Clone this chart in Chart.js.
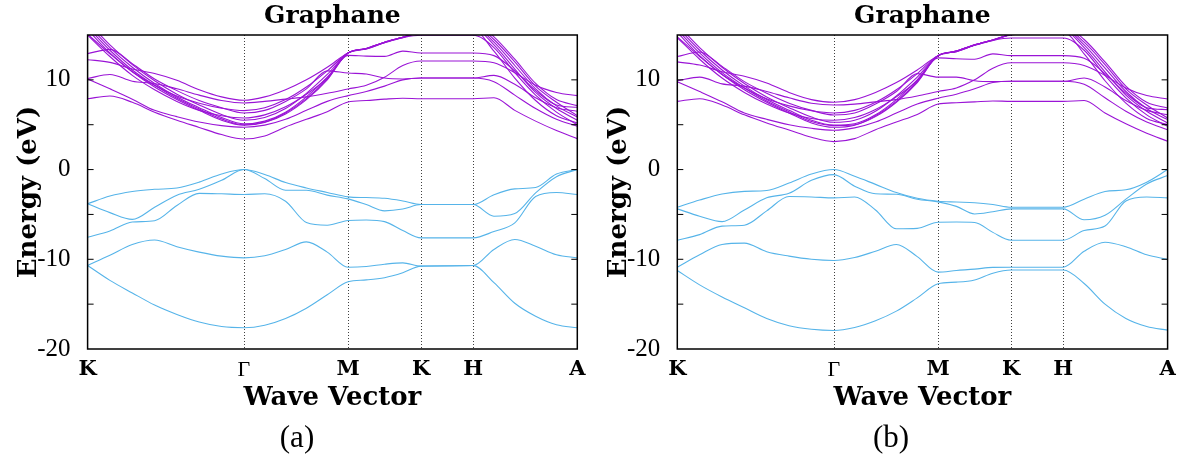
<!DOCTYPE html>
<html>
<head>
<meta charset="utf-8">
<script src="https://cdn.jsdelivr.net/npm/chart.js@4.4.1/dist/chart.umd.min.js"></script>
<style>
  html, body { margin: 0; padding: 0; background: #fff; }
  #wrap { position: relative; width: 1188px; height: 458px; }
  .panel { position: absolute; top: 0; width: 594px; height: 458px; }
</style>
</head>
<body>
<div id="wrap">
  <div class="panel" style="left:0"><canvas id="chart-a" width="594" height="458"></canvas></div>
  <div class="panel" style="left:594px"><canvas id="chart-b" width="594" height="458"></canvas></div>
</div>
<script>
// k-path sample positions (K -> Gamma -> M -> K -> H -> A)
const kPath = [0, 0.214, 0.429, 0.643, 0.857, 1.071, 1.286, 1.5, 1.7, 1.9, 2.1, 2.3, 2.5,
               2.675, 2.85, 3.025, 3.2, 3.7, 3.9, 4.1, 4.3, 4.5, 4.7];
const kTicks = [0, 1.5, 2.5, 3.2, 3.7, 4.7];
const kLabels = ['K', 'Γ', 'M', 'K', 'H', 'A'];
const energyTicks = [-20, -15, -10, -5, 0, 5, 10, 15];

// panel (a): valence bands (eV)
const valenceA = [
  [-3.82, -2.95, -2.45, -2.2, -2.05, -1.4, -0.5, 0, -0.55, -1.45, -2.05, -2.55, -3.04, -3.12, -3.2, -3.5, -3.9, -3.9, -2.8, -2.15, -2.0, -0.5, 0],
  [-3.82, -4.8, -5.55, -4.2, -2.85, -2.2, -1.2, 0, -1.0, -2.3, -2.3, -2.85, -3.27, -3.9, -4.6, -4.4, -3.9, -3.9, -5.2, -4.9, -2.6, -0.8, 0],
  [-7.54, -6.85, -5.85, -5.7, -4.0, -2.65, -2.7, -2.78, -2.7, -3.53, -5.9, -6.2, -5.68, -5.62, -5.8, -6.8, -7.61, -7.61, -6.9, -5.94, -3.0, -2.55, -2.78],
  [-10.69, -9.55, -8.35, -7.85, -8.6, -9.2, -9.65, -9.84, -9.6, -8.9, -8.06, -9.2, -10.88, -10.8, -10.55, -10.4, -10.76, -10.7, -8.9, -7.8, -8.55, -9.5, -9.84],
  [-10.69, -12.35, -13.75, -15.1, -16.15, -17.0, -17.5, -17.63, -17.35, -16.6, -15.45, -13.95, -12.51, -12.3, -12.05, -11.5, -10.76, -10.7, -12.6, -14.9, -16.35, -17.3, -17.63]
];

// panel (a): conduction bands (eV)
const conductionA = [
  [7.9, 8.2, 7.5, 6.4, 5.5, 4.7, 3.9, 3.41, 3.75, 4.75, 5.6, 6.45, 7.54, 7.7, 7.85, 7.95, 7.9, 7.9, 8.0, 6.6, 5.4, 4.35, 3.45],
  [10.1, 9.0, 7.85, 6.6, 5.9, 5.3, 4.9, 4.71, 4.95, 5.6, 6.6, 7.6, 8.24, 8.7, 9.3, 10.0, 10.2, 10.2, 9.8, 8.3, 6.8, 5.6, 4.83],
  [15.6, 13.0, 10.9, 9.2, 7.8, 6.6, 5.5, 4.94, 5.25, 6.2, 7.8, 10.0, 13.0, 13.45, 14.15, 14.7, 14.97, 14.97, 13.6, 10.8, 8.3, 6.4, 5.0],
  [15.9, 13.3, 11.1, 9.4, 7.95, 6.75, 5.65, 5.0, 5.3, 6.3, 7.9, 10.1, 13.0, 13.45, 14.15, 14.7, 15.3, 15.6, 13.2, 10.2, 7.7, 6.0, 5.2],
  [16.2, 13.6, 11.4, 9.6, 8.1, 6.9, 5.8, 5.09, 5.4, 6.4, 8.1, 10.3, 13.0, 13.5, 14.2, 14.75, 15.35, 15.8, 13.9, 11.2, 8.6, 6.8, 5.5],
  [16.5, 13.9, 11.7, 9.9, 8.4, 7.2, 6.15, 5.49, 5.8, 6.8, 8.5, 10.6, 13.0, 13.5, 14.2, 14.75, 15.35, 16.0, 14.2, 11.6, 9.0, 7.1, 5.87],
  [15.0, 12.6, 10.5, 8.9, 7.6, 6.6, 6.0, 5.75, 6.1, 7.0, 8.4, 10.2, 12.73, 12.65, 12.62, 13.2, 13.0, 13.0, 12.7, 11.0, 8.8, 7.2, 6.94],
  [12.92, 13.4, 11.8, 10.1, 8.8, 7.7, 6.9, 6.31, 6.6, 7.6, 9.0, 11.0, 10.76, 10.65, 10.2, 10.1, 10.2, 10.2, 10.5, 9.5, 8.0, 6.9, 6.5],
  [15.1, 12.9, 10.9, 9.4, 8.2, 7.4, 6.85, 6.57, 6.9, 7.8, 9.2, 11.0, 13.0, 13.5, 14.2, 14.75, 15.35, 16.2, 14.5, 12.0, 9.3, 7.5, 6.01],
  [10.15, 10.6, 9.85, 9.6, 9.0, 8.3, 7.7, 7.42, 7.6, 7.85, 8.1, 8.5, 8.98, 9.4, 10.3, 11.6, 12.1, 12.1, 11.9, 10.8, 9.4, 8.6, 8.24],
  [12.25, 11.95, 11.2, 10.7, 9.95, 8.9, 8.1, 7.72, 8.1, 8.9, 10.0, 11.4, 13.0, 13.5, 14.2, 14.75, 15.35, 16.4, 14.8, 12.3, 9.6, 7.8, 7.13]
];

// panel (b): valence bands (eV)
const valenceB = [
  [-4.2, -3.4, -2.72, -2.43, -2.33, -1.5, -0.5, 0, -0.75, -1.65, -2.55, -3.2, -3.53, -3.62, -3.7, -3.9, -4.2, -4.2, -3.3, -2.45, -2.25, -1.4, 0],
  [-4.38, -5.2, -5.8, -4.5, -3.15, -2.65, -1.2, -0.56, -1.85, -2.7, -2.75, -3.3, -3.6, -4.1, -4.95, -4.7, -4.38, -4.38, -5.6, -5.1, -3.3, -1.6, -0.67],
  [-7.87, -7.25, -6.3, -6.2, -4.6, -3.0, -3.05, -3.16, -3.05, -4.5, -6.6, -6.55, -5.87, -5.85, -5.9, -7.0, -7.87, -7.87, -6.8, -6.3, -3.5, -3.05, -3.16],
  [-10.88, -9.5, -8.35, -8.2, -9.15, -9.65, -10.0, -10.13, -9.8, -9.1, -8.35, -9.7, -11.43, -11.25, -11.1, -10.9, -10.88, -10.88, -9.1, -8.1, -8.6, -9.5, -10.0],
  [-11.25, -12.85, -14.2, -15.4, -16.6, -17.4, -17.8, -17.93, -17.6, -16.85, -15.78, -14.3, -12.73, -12.55, -12.3, -11.55, -11.2, -11.2, -12.7, -15.0, -16.6, -17.5, -17.9]
];

// panel (b): conduction bands (eV)
const conductionB = [
  [7.6, 7.9, 7.2, 6.1, 5.2, 4.4, 3.6, 3.12, 3.45, 4.45, 5.3, 6.15, 7.3, 7.45, 7.55, 7.65, 7.6, 7.6, 7.7, 6.3, 5.1, 4.05, 3.16],
  [9.8, 8.7, 7.55, 6.3, 5.6, 5.0, 4.6, 4.38, 4.65, 5.3, 6.3, 7.3, 7.95, 8.4, 9.0, 9.7, 9.84, 9.84, 9.5, 8.0, 6.5, 5.3, 4.45],
  [15.3, 12.7, 10.6, 8.9, 7.5, 6.3, 5.2, 4.71, 4.95, 5.9, 7.5, 9.7, 12.7, 13.15, 13.85, 14.4, 14.66, 14.66, 13.3, 10.5, 8.0, 6.1, 4.83],
  [15.6, 13.0, 10.8, 9.1, 7.65, 6.45, 5.35, 4.9, 5.0, 6.0, 7.6, 9.8, 12.7, 13.15, 13.85, 14.4, 15.0, 15.3, 12.9, 9.9, 7.4, 5.7, 5.01],
  [15.9, 13.3, 11.1, 9.3, 7.8, 6.6, 5.5, 4.95, 5.1, 6.1, 7.8, 10.0, 12.7, 13.2, 13.9, 14.45, 15.05, 15.5, 13.6, 10.9, 8.3, 6.5, 5.2],
  [16.2, 13.6, 11.4, 9.6, 8.1, 6.9, 5.85, 5.27, 5.5, 6.5, 8.2, 10.3, 12.7, 13.2, 13.9, 14.45, 15.05, 15.7, 13.9, 11.3, 8.7, 6.8, 5.57],
  [14.7, 12.3, 10.2, 8.6, 7.3, 6.3, 5.7, 5.49, 5.8, 6.7, 8.1, 9.9, 12.45, 12.35, 12.3, 12.9, 12.7, 12.7, 12.4, 10.7, 8.5, 6.9, 6.68],
  [12.6, 13.1, 11.5, 9.8, 8.5, 7.4, 6.6, 6.09, 6.3, 7.3, 8.7, 10.7, 10.3, 10.3, 9.9, 9.8, 9.84, 9.84, 10.2, 9.2, 7.7, 6.6, 6.12],
  [14.8, 12.6, 10.6, 9.1, 7.9, 7.1, 6.55, 6.31, 6.6, 7.5, 8.9, 10.7, 12.7, 13.2, 13.9, 14.45, 15.05, 15.9, 14.2, 11.7, 9.0, 7.2, 5.75],
  [9.9, 10.3, 9.55, 9.3, 8.7, 8.0, 7.4, 7.2, 7.3, 7.55, 7.8, 8.2, 8.7, 9.1, 10.0, 11.3, 11.9, 11.9, 11.6, 10.5, 9.1, 8.25, 7.87],
  [12.0, 11.65, 10.9, 10.4, 9.65, 8.6, 7.8, 7.5, 7.8, 8.6, 9.7, 11.1, 12.7, 13.2, 13.9, 14.45, 15.05, 16.1, 14.5, 12.0, 9.3, 7.5, 6.87]
];

const VALENCE_COLOR = '#56B4E9';
const CONDUCTION_COLOR = '#9A14D6';
const SERIF = '"Liberation Serif", serif';
const SERIF_BOLD = '"DejaVu Serif", serif';

function bandDataset(row, color) {
    return {
        data: kPath.map((k, i) => ({ x: k, y: row[i] })),
        borderColor: color,
        borderWidth: 1.1,
        pointRadius: 0,
        cubicInterpolationMode: 'monotone',
        fill: false,
        clip: 0
    };
}

// frame, inward ticks, dotted k-lines and the text labels
const decorPlugin = {
    id: 'bandDecor',
    beforeDatasetsDraw(chart) {
        const { ctx, chartArea: a, scales } = chart;
        ctx.save();
        ctx.strokeStyle = 'rgba(0,0,0,0.75)';
        ctx.lineWidth = 1;
        ctx.setLineDash([1, 2]);
        kTicks.slice(1, -1).forEach(k => {
            const x = Math.round(scales.x.getPixelForValue(k)) + 0.5;
            ctx.beginPath();
            ctx.moveTo(x, a.top);
            ctx.lineTo(x, a.bottom);
            ctx.stroke();
        });
        ctx.restore();
    },
    afterDatasetsDraw(chart) {
        const { ctx, chartArea: a, scales } = chart;
        ctx.save();
        ctx.strokeStyle = '#000';
        ctx.lineWidth = 1.5;
        ctx.strokeRect(a.left, a.top, a.right - a.left, a.bottom - a.top);
        ctx.lineWidth = 1;
        energyTicks.slice(1, -1).forEach(v => {
            const y = scales.y.getPixelForValue(v);
            ctx.beginPath();
            ctx.moveTo(a.left, y);
            ctx.lineTo(a.left + 6, y);
            ctx.moveTo(a.right, y);
            ctx.lineTo(a.right - 6, y);
            ctx.stroke();
        });
        ctx.restore();
    },
    afterDraw(chart, args, opts) {
        const { ctx, chartArea: a } = chart;
        const cx = (a.left + a.right) / 2;
        ctx.save();
        ctx.fillStyle = '#000';
        ctx.textAlign = 'center';
        ctx.textBaseline = 'alphabetic';
        ctx.font = 'bold 25px ' + SERIF_BOLD;
        ctx.fillText('Graphane', cx, 23);
        ctx.font = 'bold 26px ' + SERIF_BOLD;
        ctx.fillText('Wave Vector', cx, 405);
        ctx.font = '31px ' + SERIF;
        ctx.fillText(opts.caption, chart.width / 2, 447);
        ctx.translate(opts.yTitleX, (a.top + a.bottom) / 2);
        ctx.rotate(-Math.PI / 2);
        ctx.font = 'bold 26px ' + SERIF_BOLD;
        ctx.fillText('Energy (eV)', 0, 0);
        ctx.restore();
    }
};

function makeChart(canvasId, valence, conduction, layout) {
    const datasets = [
        ...valence.map(row => bandDataset(row, VALENCE_COLOR)),
        ...conduction.map(row => bandDataset(row, CONDUCTION_COLOR))
    ];
    return new Chart(document.getElementById(canvasId), {
        type: 'line',
        data: { datasets },
        plugins: [decorPlugin],
        options: {
            responsive: false,
            animation: false,
            layout: { padding: { top: 35, right: layout.padRight, left: 0, bottom: 0 } },
            plugins: {
                legend: { display: false },
                tooltip: { enabled: false },
                bandDecor: { caption: layout.caption, yTitleX: layout.yTitleX }
            },
            scales: {
                x: {
                    type: 'linear',
                    min: kTicks[0],
                    max: kTicks[kTicks.length - 1],
                    grid: { display: false },
                    border: { display: false },
                    afterBuildTicks: scale => { scale.ticks = kTicks.map(v => ({ value: v })); },
                    afterFit: scale => {
                        scale.height = 109;
                        scale.paddingLeft = 0;
                        scale.paddingRight = 0;
                    },
                    ticks: {
                        autoSkip: false,
                        maxRotation: 0,
                        padding: 0,
                        color: '#000',
                        callback: (v, i) => kLabels[i],
                        font: ctx => ({
                            family: ctx.index === 1 ? SERIF : SERIF_BOLD,
                            size: ctx.index === 1 ? 22 : 21,
                            weight: ctx.index === 1 ? 'normal' : 'bold'
                        })
                    }
                },
                y: {
                    min: -20,
                    max: 15,
                    grid: { display: false },
                    border: { display: false },
                    afterFit: scale => {
                        scale.width = layout.yAxisWidth;
                        scale.paddingTop = 0;
                        scale.paddingBottom = 0;
                    },
                    ticks: {
                        stepSize: 5,
                        padding: 9,
                        color: '#000',
                        font: { family: SERIF, size: 25 },
                        callback: v => (v % 10 === 0 ? String(v) : '')
                    }
                }
            }
        }
    });
}

makeChart('chart-a', valenceA, conductionA, { yAxisWidth: 87.6, padRight: 16.7, caption: '(a)', yTitleX: 36 });
makeChart('chart-b', valenceB, conductionB, { yAxisWidth: 83.3, padRight: 20.4, caption: '(b)', yTitleX: 32 });
</script>
</body>
</html>
